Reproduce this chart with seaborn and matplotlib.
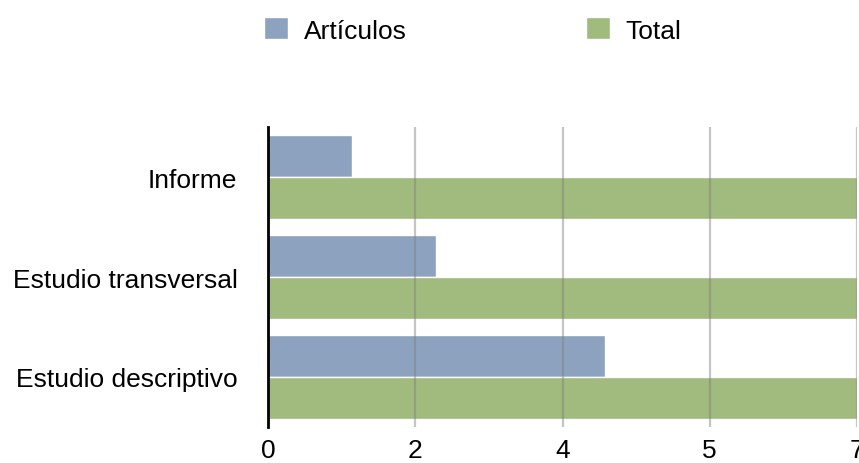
import matplotlib
matplotlib.use("Agg")
import matplotlib.pyplot as plt
import seaborn as sns
import pandas as pd

categories = ["Informe", "Estudio transversal", "Estudio descriptivo"]
articulos = [1, 2, 4]
total = [7, 7, 7]
series_names = ["Artículos", "Total"]
tick_values = [0, 1.75, 3.5, 5.25, 7]
tick_labels = ["0", "2", "4", "5", "7"]
colors = ["#8CA2BE", "#A1BA7D"]

df = pd.DataFrame({
    "cat": categories * 2,
    "val": articulos + total,
    "serie": [series_names[0]] * 3 + [series_names[1]] * 3,
})

sns.set_theme(style="white")
plt.rcParams["font.family"] = ["Liberation Sans", "DejaVu Sans"]
plt.rcParams["text.color"] = "black"
plt.rcParams["xtick.color"] = "black"
plt.rcParams["ytick.color"] = "black"

fig = plt.figure(figsize=(8.59, 4.64), dpi=100)
ax = fig.add_axes([268 / 859, 36 / 464, (857 - 268) / 859, 300 / 464])

sns.barplot(data=df, y="cat", x="val", hue="serie", order=categories,
            hue_order=series_names, palette=colors, orient="h", width=0.84,
            edgecolor="white", linewidth=1, saturation=1, ax=ax, legend=True)

fs = 19
ax.set_xlim(0, 7)
ax.set_ylim(2.5, -0.5)
ax.set_xticks(tick_values)
ax.set_xticklabels(tick_labels, fontsize=fs)
ax.tick_params(axis="x", length=0, pad=8, labelcolor="black")
ax.tick_params(axis="y", length=0, pad=22, labelsize=fs, labelcolor="black")
ax.set_xlabel("")
ax.set_ylabel("")
for s in ["top", "right", "bottom"]:
    ax.spines[s].set_visible(False)
ax.spines["left"].set_color("black")
ax.spines["left"].set_linewidth(2)
ax.spines["left"].set_zorder(5)

ax.set_axisbelow(False)
ax.xaxis.grid(True, color="#808080", alpha=0.45, linewidth=1.6)
ax.yaxis.grid(False)

handles, labels = ax.get_legend_handles_labels()
ax.get_legend().remove()
fig.legend(handles, labels, loc="upper left", bbox_to_anchor=(246 / 859, 1.0),
           ncol=2, frameon=False, fontsize=fs, handlelength=0.9,
           handleheight=0.9, handletextpad=0.58, columnspacing=6.8,
           borderaxespad=0.3, labelcolor="black")

fig.savefig("out.png", dpi=100)
